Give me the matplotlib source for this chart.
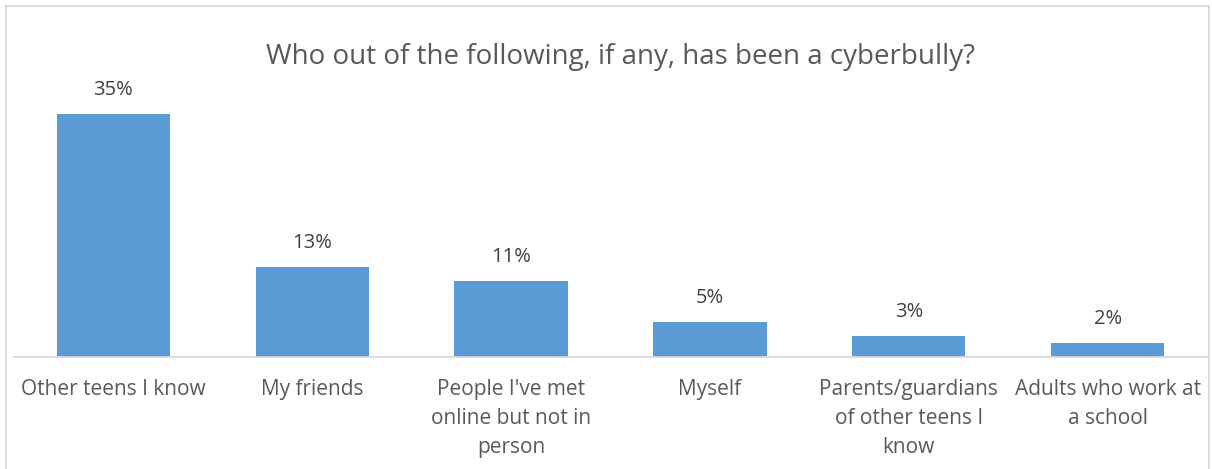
import matplotlib
matplotlib.use('Agg')
import matplotlib.pyplot as plt
from matplotlib.patches import Rectangle

# survey answers, percent of respondents
categories = ["Other teens I know", "My friends", "People I've met\nonline but not in\nperson",
              "Myself", "Parents/guardians\nof other teens I\nknow", "Adults who work at\na school"]
values = [35, 13, 11, 5, 3, 2]
labels = ["35%", "13%", "11%", "5%", "3%", "2%"]

plt.rcParams['font.family'] = ['Open Sans', 'DejaVu Sans']
txt = '#595959'

fig = plt.figure(figsize=(12.12, 4.69), dpi=100)
ax = fig.add_axes([14/1212, 1-357/469, (1207-14)/1212, (357-79)/469])

x = range(len(categories))
bars = ax.bar(x, values, width=0.57, color='#5b9bd5')

for b, lab in zip(bars, labels):
    ax.annotate(lab, (b.get_x() + b.get_width()/2, b.get_height()),
                xytext=(0, 10), textcoords='offset points',
                ha='center', va='bottom', fontsize=14.5, color='#404040')

ax.set_xlim(-0.5, len(categories) - 0.5)
ax.set_ylim(0, 40)
ax.set_xticks(list(x))
ax.set_xticklabels(categories, fontsize=15, color=txt, linespacing=1.5)
ax.tick_params(axis='x', length=0, pad=16)
ax.set_yticks([])
for s in ['top', 'right', 'left']:
    ax.spines[s].set_visible(False)
ax.spines['bottom'].set_color('#d9d9d9')
ax.spines['bottom'].set_linewidth(1.3)

fig.text(0.512, 1-57/469, 'Who out of the following, if any, has been a cyberbully?',
         ha='center', va='center', fontsize=20, color=txt)

# light frame around the chart
fig.patches.append(Rectangle((6/1212, -0.05), (1209-6)/1212, 1.05 - 6/469,
                             transform=fig.transFigure, fill=False,
                             edgecolor='#d9d9d9', linewidth=1.3))

fig.savefig('out.png', dpi=100)
